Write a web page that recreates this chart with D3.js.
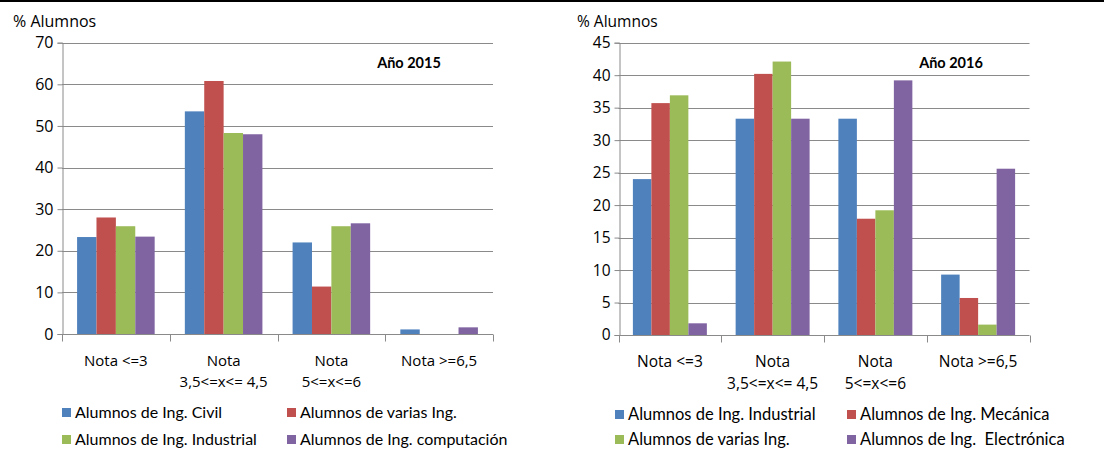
<!DOCTYPE html>
<html>
<head>
<meta charset="utf-8">
<script src="https://cdn.jsdelivr.net/npm/d3@7"></script>
<style>
body { margin: 0; background: #fff; }
svg { display: block; }
</style>
</head>
<body>
<svg id="chart" width="1104" height="451"></svg>
<script>

// category labels, one entry per line
var categories = [["Nota <=3"], ["Nota", "3,5<=x<= 4,5"], ["Nota", "5<=x<=6"], ["Nota >=6,5"]];

// Año 2015
var series2015 = ["Alumnos de Ing. Civil", "Alumnos de varias Ing.", "Alumnos de Ing. Industrial", "Alumnos de Ing. computación"];
var civil2015 = [23.3, 53.5, 22.0, 1.1];
var varias2015 = [28.0, 60.8, 11.4, 0];
var industrial2015 = [25.9, 48.3, 25.9, 0];
var computacion2015 = [23.4, 48.0, 26.6, 1.6];
var ticks2015 = [0, 10, 20, 30, 40, 50, 60, 70];

// Año 2016
var series2016 = ["Alumnos de Ing. Industrial", "Alumnos de Ing. Mecánica", "Alumnos de varias Ing.", "Alumnos de Ing.  Electrónica"];
var industrial2016 = [24.0, 33.3, 33.3, 9.3];
var mecanica2016 = [35.7, 40.2, 17.9, 5.7];
var varias2016 = [36.9, 42.1, 19.2, 1.6];
var electronica2016 = [1.8, 33.3, 39.2, 25.6];
var ticks2016 = [0, 5, 10, 15, 20, 25, 30, 35, 40, 45];

var colors = ["#4F81BD", "#C0504D", "#9BBB59", "#8064A2"];

var svg = d3.select("#chart");

// black rule across the top
svg.append("rect").attr("x", 0).attr("y", 0).attr("width", 1104).attr("height", 2).attr("fill", "#000");

drawChart({
	title: "Año 2015", names: series2015,
	values: [civil2015, varias2015, industrial2015, computacion2015],
	ticks: ticks2015,
	left: 62, right: 493, top: 42.7, bottom: 334,
	labelX: 13, titleX: 409,
	legendX: [62, 287], legendY: [413, 440],
	fonts: { tick: 16, cat: 15, catGap: 21, caption: 16, legend: 16 }
});

drawChart({
	title: "Año 2016", names: series2016,
	values: [industrial2016, mecanica2016, varias2016, electronica2016],
	ticks: ticks2016,
	left: 618.5, right: 1029.5, top: 42.7, bottom: 335,
	labelX: 577, titleX: 951,
	legendX: [615, 847], legendY: [415, 440],
	fonts: { tick: 15.5, cat: 15.5, catGap: 21.5, caption: 15.5, legend: 16.5 }
});

function drawChart(c){
	var g = svg.append("g");
	var maxV = c.ticks[c.ticks.length - 1];

	var x0 = d3.scaleBand()
		.domain(d3.range(categories.length))
		.range([c.left, c.right])
		.paddingInner(0.28)
		.paddingOuter(0.14);

	var x1 = d3.scaleBand()
		.domain(d3.range(c.names.length))
		.range([0, x0.bandwidth()]);

	var y = d3.scaleLinear().domain([0, maxV]).range([c.bottom, c.top]);

	//gridlines
	g.append("g").selectAll("line")
		.data(c.ticks.slice(1))
		.enter().append("line")
		.attr("x1", c.left).attr("x2", c.right)
		.attr("y1", function(d){ return Math.round(y(d)) + 0.5; })
		.attr("y2", function(d){ return Math.round(y(d)) + 0.5; })
		.attr("stroke", "#8a8a8a").attr("stroke-width", 1);

	//y axis
	var yAxis = g.append("g")
		.attr("transform", "translate(" + (Math.round(c.left) + 0.5) + ",0)")
		.call(d3.axisLeft(y).tickValues(c.ticks).tickSize(5).tickPadding(4));
	yAxis.select(".domain").attr("stroke", "#8a8a8a");
	yAxis.selectAll(".tick line").attr("stroke", "#8a8a8a");
	yAxis.selectAll(".tick text")
		.attr("fill", "#000")
		.style("font-family", "'Open Sans', sans-serif")
		.style("font-size", c.fonts.tick + "px");

	//bars
	var groups = g.append("g").selectAll("g")
		.data(categories)
		.enter().append("g")
		.attr("transform", function(d, i){ return "translate(" + x0(i) + ",0)"; });

	groups.selectAll("rect")
		.data(function(d, i){ return c.values.map(function(s){ return s[i]; }); })
		.enter().append("rect")
		.attr("x", function(d, j){ return x1(j); })
		.attr("width", x1.bandwidth())
		.attr("y", function(d){ return y(d); })
		.attr("height", function(d){ return y(0) - y(d); })
		.attr("fill", function(d, j){ return colors[j]; });

	//x axis line and category tick marks
	var step = x0.step();
	var base = Math.round(y(0)) + 0.5;
	g.append("line")
		.attr("x1", c.left).attr("x2", c.right)
		.attr("y1", base).attr("y2", base)
		.attr("stroke", "#8a8a8a");
	g.append("g").selectAll("line")
		.data(d3.range(categories.length + 1))
		.enter().append("line")
		.attr("x1", function(i){ return Math.round(c.left + i * step) + 0.5; })
		.attr("x2", function(i){ return Math.round(c.left + i * step) + 0.5; })
		.attr("y1", base).attr("y2", base + 7)
		.attr("stroke", "#8a8a8a");

	//category labels
	var lbl = g.append("g").selectAll("text")
		.data(categories)
		.enter().append("text")
		.attr("text-anchor", "middle")
		.attr("x", function(d, i){ return x0(i) + x0.bandwidth() / 2; })
		.attr("y", c.bottom + 32)
		.style("font-family", "'Open Sans', sans-serif")
		.style("font-size", c.fonts.cat + "px")
		.attr("fill", "#000");
	lbl.selectAll("tspan")
		.data(function(d){ return d; })
		.enter().append("tspan")
		.attr("x", function(){ return d3.select(this.parentNode).attr("x"); })
		.attr("dy", function(d, k){ return k ? c.fonts.catGap : 0; })
		.text(function(d){ return d; });

	//axis caption
	g.append("text")
		.attr("x", c.labelX).attr("y", 27)
		.style("font-family", "'Open Sans', sans-serif")
		.style("font-size", c.fonts.caption + "px")
		.text("% Alumnos");

	//title
	g.append("text")
		.attr("x", c.titleX).attr("y", 68)
		.attr("text-anchor", "middle")
		.style("font-family", "Lato, sans-serif")
		.style("font-size", "14.5px")
		.style("font-weight", "bold")
		.text(c.title);

	//legend
	var leg = g.append("g").selectAll("g")
		.data(c.names)
		.enter().append("g")
		.attr("transform", function(d, i){ return "translate(" + c.legendX[i % 2] + "," + c.legendY[Math.floor(i / 2)] + ")"; });
	leg.append("rect")
		.attr("x", 0).attr("y", -5)
		.attr("width", 9).attr("height", 9)
		.attr("fill", function(d, i){ return colors[i]; });
	leg.append("text")
		.attr("x", 13).attr("y", 5)
		.style("font-family", "Lato, sans-serif")
		.style("font-size", c.fonts.legend + "px")
		.attr("fill", "#000")
		.style("white-space", "pre")
		.text(function(d){ return d; });
}
</script>
</body>
</html>
